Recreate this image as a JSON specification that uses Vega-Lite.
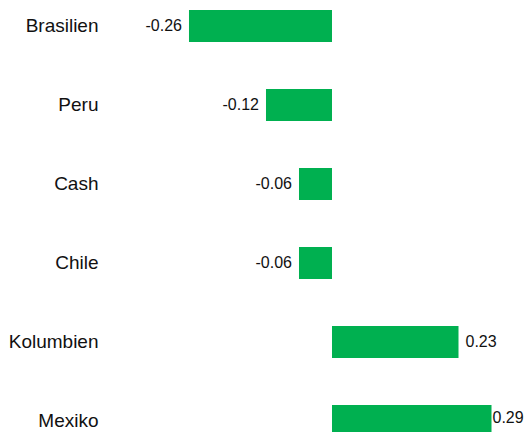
{
  "$schema": "https://vega.github.io/schema/vega-lite/v6.json",
  "autosize": {"type": "none"},
  "padding": {"left": 110, "top": 0, "right": 7, "bottom": 0},
  "width": 410,
  "height": 447,
  "background": "white",
  "config": {
    "view": {"stroke": null},
    "font": "Liberation Sans",
    "locale": {"number": {"decimal": ".", "thousands": ",", "grouping": [3], "currency": ["$", ""], "minus": "-"}}
  },
  "data": {"values": [
    {"land": "Brasilien", "wert": -0.26},
    {"land": "Peru", "wert": -0.12},
    {"land": "Cash", "wert": -0.06},
    {"land": "Chile", "wert": -0.06},
    {"land": "Kolumbien", "wert": 0.23},
    {"land": "Mexiko", "wert": 0.29}
  ]},
  "encoding": {
    "y": {"field": "land", "type": "nominal", "sort": null,
      "scale": {"paddingInner": 0.595, "paddingOuter": 0.127},
      "axis": {"title": null, "domain": false, "ticks": false, "labelPadding": 12, "labelFontSize": 19, "labelColor": "#111", "labelFont": "Liberation Sans"}},
    "x": {"field": "wert", "type": "quantitative",
      "scale": {"domain": [-0.4036, 0.3418], "nice": false, "zero": false},
      "axis": null}
  },
  "layer": [
    {"mark": {"type": "bar", "color": "#00B050"}},
    {"transform": [{"filter": "datum.wert < 0"}],
     "mark": {"type": "text", "align": "right", "dx": -7, "fontSize": 16, "color": "#111"},
     "encoding": {"text": {"field": "wert", "format": ".2f"}}},
    {"transform": [{"filter": "datum.wert >= 0 && datum.wert < 0.25"}],
     "mark": {"type": "text", "align": "left", "dx": 7, "fontSize": 16, "color": "#111"},
     "encoding": {"text": {"field": "wert", "format": ".2f"}}},
    {"transform": [{"filter": "datum.wert >= 0.25"}],
     "mark": {"type": "text", "align": "left", "dx": 1, "dy": -3, "fontSize": 16, "color": "#111"},
     "encoding": {"text": {"field": "wert", "format": ".2f"}}}
  ]
}
